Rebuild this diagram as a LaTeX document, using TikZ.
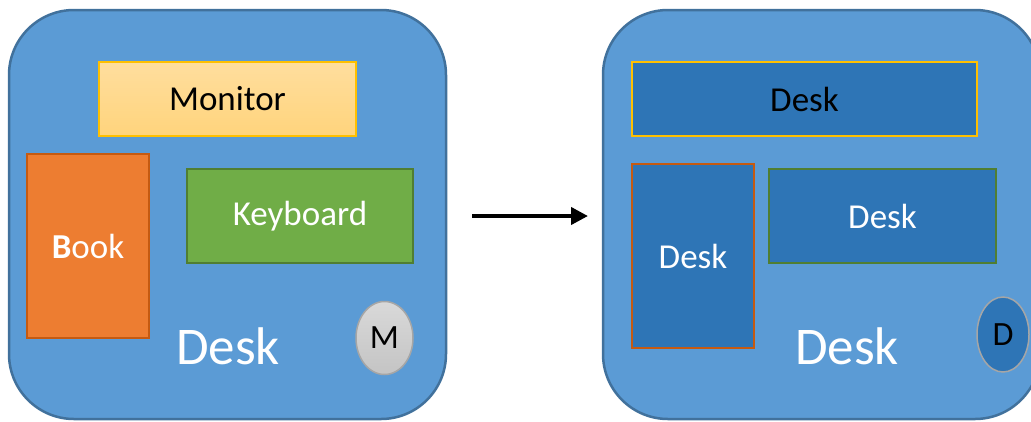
\documentclass[tikz,border=0pt]{standalone}
\usepackage{fontspec}
\setmainfont{Carlito}
\usetikzlibrary{shapes.geometric,arrows.meta}
\definecolor{deskfill}{HTML}{5B9BD5}
\definecolor{deskline}{HTML}{41719C}
\definecolor{darkblue}{HTML}{2E75B6}
\definecolor{gold}{HTML}{FFC000}
\definecolor{monitortop}{HTML}{FFDE9E}
\definecolor{monitorbot}{HTML}{FFD47C}
\definecolor{bookfill}{HTML}{ED7D31}
\definecolor{bookline}{HTML}{C55A11}
\definecolor{kbfill}{HTML}{70AD47}
\definecolor{kbline}{HTML}{507E32}
\definecolor{mousetop}{HTML}{D9D9D9}
\definecolor{mousebot}{HTML}{C4C4C4}
\definecolor{mouseline}{HTML}{A6A6A6}
\tikzset{
  desk/.style={draw=deskline, fill=deskfill, line width=2.5pt, rounded corners=65pt,
    minimum width=437pt, minimum height=409pt, inner sep=0pt},
  part/.style={rectangle, line width=2pt, inner sep=0pt, font=\fontsize{35}{40}\selectfont},
  deskword/.style={text=white, font=\fontsize{53}{60}\selectfont, inner sep=0pt},
  puck/.style={ellipse, line width=1.5pt, draw=mouseline, inner sep=0pt,
    font=\fontsize{34}{38}\selectfont},
}
\begin{document}
\begin{tikzpicture}[x=1pt,y=-1pt]
\useasboundingbox (0,0) rectangle (1031,421);

% before: the desk with its objects
\node[desk] (deskA) at (227.5,214.5) {};
\node[part, draw=gold, top color=monitortop, bottom color=monitorbot,
  minimum width=257pt, minimum height=74pt] (monitor) at (227.5,99) {Monitor};
\node[part, draw=bookline, fill=bookfill, text=white,
  minimum width=122pt, minimum height=184pt] (book) at (88,246) {\textbf{B}ook};
\node[part, draw=kbline, fill=kbfill, text=white,
  minimum width=226pt, minimum height=94pt] (keyboard) at (300,216) {Keyboard};
\node[deskword] (labelA) at (228,346) {Desk};
\node[puck, top color=mousetop, bottom color=mousebot,
  minimum width=57pt, minimum height=73pt] (mouse) at (384.5,338) {M};

% transformation arrow
\coordinate (from) at (472,216);
\coordinate (to) at (588,216);
\draw[line width=4pt, -{Triangle[length=17pt,width=17pt]}] (from) -- (to);

% after: every object replaced by a desk
\node[desk] (deskB) at (821.5,214.5) {};
\node[part, draw=gold, fill=darkblue, line width=1.5pt,
  minimum width=345pt, minimum height=74pt] (topB) at (804.5,99) {Desk};
\node[part, draw=bookline, fill=darkblue, text=white,
  minimum width=122pt, minimum height=184pt] (leftB) at (693,256) {Desk};
\node[part, draw=kbline, fill=darkblue, text=white,
  minimum width=227pt, minimum height=94pt] (rightB) at (882.5,216) {Desk};
\node[deskword] (labelB) at (847,346) {Desk};
\node[puck, fill=darkblue, minimum width=52pt, minimum height=75pt] (dot) at (1003,334.5) {D};
\end{tikzpicture}
\end{document}
